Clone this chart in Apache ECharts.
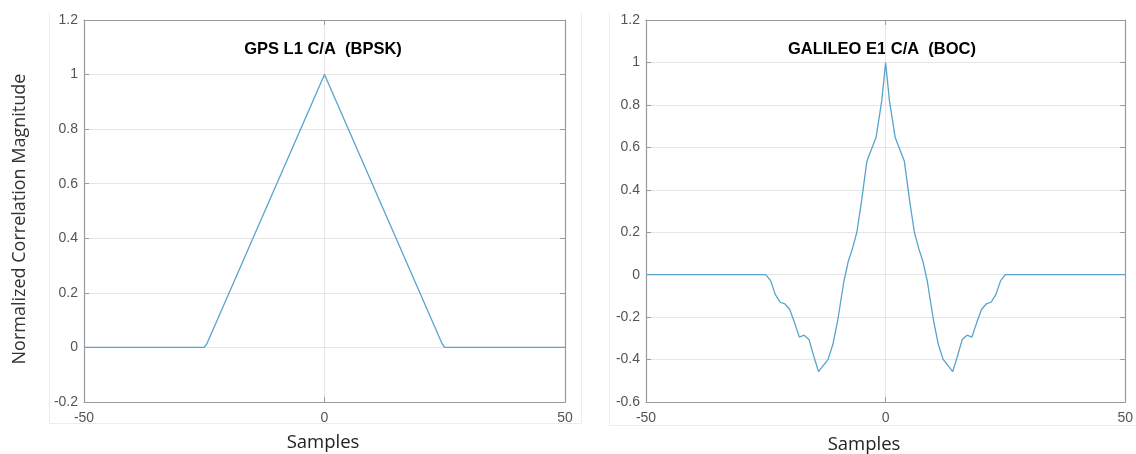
<!DOCTYPE html>
<html>
<head>
<meta charset="utf-8">
<script src="https://cdn.jsdelivr.net/npm/echarts@6/dist/echarts.min.js"></script>
<style>
html,body{margin:0;padding:0;background:#fff;}
#c{width:1136px;height:454px;}
</style>
</head>
<body>
<div id="c"></div>
<script>
// ---- data ----
var gpsTitle = 'GPS L1 C/A  (BPSK)';
var bocTitle = 'GALILEO E1 C/A  (BOC)';
var gpsX = [-50, -25, -24.5, 0, 24.5, 25, 50];
var gpsY = [0, 0, 0.012, 1, 0.012, 0, 0];
var bocX = [-50, -25, -24, -23, -22, -21, -20, -19, -18, -17, -16, -15, -14, -12, -11, -10, -8.7, -7.8, -7, -6, -5, -3.9, -2, -0.8, 0,
            0.8, 2, 3.9, 5, 6, 7, 7.8, 8.7, 10, 11, 12, 14, 15, 16, 17, 18, 19, 20, 21, 22, 23, 24, 25, 50];
var bocY = [0, 0, -0.028, -0.094, -0.13, -0.138, -0.164, -0.227, -0.294, -0.285, -0.305, -0.383, -0.457, -0.399, -0.328, -0.216, -0.031, 0.062, 0.117, 0.2, 0.35, 0.536, 0.646, 0.82, 1,
            0.82, 0.646, 0.536, 0.35, 0.2, 0.117, 0.062, -0.031, -0.216, -0.328, -0.399, -0.457, -0.383, -0.305, -0.285, -0.294, -0.227, -0.164, -0.138, -0.13, -0.094, -0.028, 0, 0];
var yLabel = 'Normalized Correlation Magnitude';
var xLabel = 'Samples';

function zip(xs, ys){ return xs.map(function(x,i){ return [x, ys[i]]; }); }

var FONT = '"Liberation Sans", Arial, sans-serif';
var NFONT = '"Open Sans", "Noto Sans", sans-serif';
var boxColor = '#9a9a9a';
var gridColor = '#e6e6e6';
var lineColor = '#58a4cb';

function mainX(gi){
  return {
    type:'value', gridIndex:gi, min:-50, max:50, interval:50,
    axisLine:{show:true, onZero:false, lineStyle:{color:boxColor, width:1.2}},
    axisTick:{show:true, inside:true, length:5, lineStyle:{color:boxColor}},
    axisLabel:{color:'#555', fontSize:14, fontFamily:FONT, margin:9, showMinLabel:true, showMaxLabel:true},
    splitLine:{show:true, lineStyle:{color:gridColor, width:1}}
  };
}
function mirrorX(gi){
  return {
    type:'value', gridIndex:gi, position:'top', min:-50, max:50, interval:50,
    axisLine:{show:true, onZero:false, lineStyle:{color:boxColor, width:1.2}},
    axisTick:{show:true, inside:true, length:5, lineStyle:{color:boxColor}},
    axisLabel:{show:false}, splitLine:{show:false}
  };
}
function mainY(gi, mn){
  return {
    type:'value', gridIndex:gi, min:mn, max:1.2, interval:0.2,
    axisLine:{show:true, onZero:false, lineStyle:{color:boxColor, width:1.2}},
    axisTick:{show:true, inside:true, length:5, lineStyle:{color:boxColor}},
    axisLabel:{color:'#555', fontSize:14, fontFamily:FONT, margin:6, showMinLabel:true, showMaxLabel:true,
      formatter:function(v){ return String(Math.round(v*10)/10); }},
    splitLine:{show:true, lineStyle:{color:gridColor, width:1}}
  };
}
function mirrorY(gi, mn){
  return {
    type:'value', gridIndex:gi, position:'right', min:mn, max:1.2, interval:0.2,
    axisLine:{show:true, onZero:false, lineStyle:{color:boxColor, width:1.2}},
    axisTick:{show:true, inside:true, length:5, lineStyle:{color:boxColor}},
    axisLabel:{show:false}, splitLine:{show:false}
  };
}

var frame = '#ececec';
var option = {
  backgroundColor:'#fff',
  animation:false,
  grid:[
    {left:84, top:20, right:571, bottom:52},
    {left:646, top:20, right:8.5, bottom:52}
  ],
  xAxis:[mainX(0), mainX(1), mirrorX(0), mirrorX(1)],
  yAxis:[mainY(0, -0.2), mainY(1, -0.6), mirrorY(0, -0.2), mirrorY(1, -0.6)],
  series:[
    {type:'line', xAxisIndex:0, yAxisIndex:0, data:zip(gpsX, gpsY), showSymbol:false,
     lineStyle:{color:lineColor, width:1.3}, itemStyle:{color:lineColor}},
    {type:'line', xAxisIndex:1, yAxisIndex:1, data:zip(bocX, bocY), showSymbol:false,
     lineStyle:{color:lineColor, width:1.3}, itemStyle:{color:lineColor}}
  ],
  graphic:[
    {type:'line', shape:{x1:49.5,y1:13,x2:49.5,y2:423.5}, style:{stroke:frame, lineWidth:1}, z:-1},
    {type:'line', shape:{x1:49.5,y1:423.5,x2:581.5,y2:423.5}, style:{stroke:frame, lineWidth:1}, z:-1},
    {type:'line', shape:{x1:581.5,y1:13,x2:581.5,y2:423.5}, style:{stroke:frame, lineWidth:1}, z:-1},
    {type:'line', shape:{x1:609.5,y1:13,x2:609.5,y2:425.5}, style:{stroke:frame, lineWidth:1}, z:-1},
    {type:'line', shape:{x1:609.5,y1:425.5,x2:1136,y2:425.5}, style:{stroke:frame, lineWidth:1}, z:-1},
    {type:'text', x:323, y:49, style:{text:gpsTitle, font:'bold 16.5px '+FONT, fill:'#000', textAlign:'center', textVerticalAlign:'middle'}},
    {type:'text', x:882, y:49, style:{text:bocTitle, font:'bold 16.5px '+FONT, fill:'#000', textAlign:'center', textVerticalAlign:'middle'}},
    {type:'text', x:20, y:219, rotation:Math.PI/2, style:{text:yLabel, font:'18px '+NFONT, fill:'#333', textAlign:'center', textVerticalAlign:'middle'}},
    {type:'text', x:323, y:443, style:{text:xLabel, font:'18.5px '+NFONT, fill:'#222', textAlign:'center', textVerticalAlign:'middle'}},
    {type:'text', x:864, y:445, style:{text:xLabel, font:'18.5px '+NFONT, fill:'#222', textAlign:'center', textVerticalAlign:'middle'}}
  ]
};
var chart = echarts.init(document.getElementById('c'), null, {renderer:'canvas'});
chart.setOption(option);
</script>
</body>
</html>
